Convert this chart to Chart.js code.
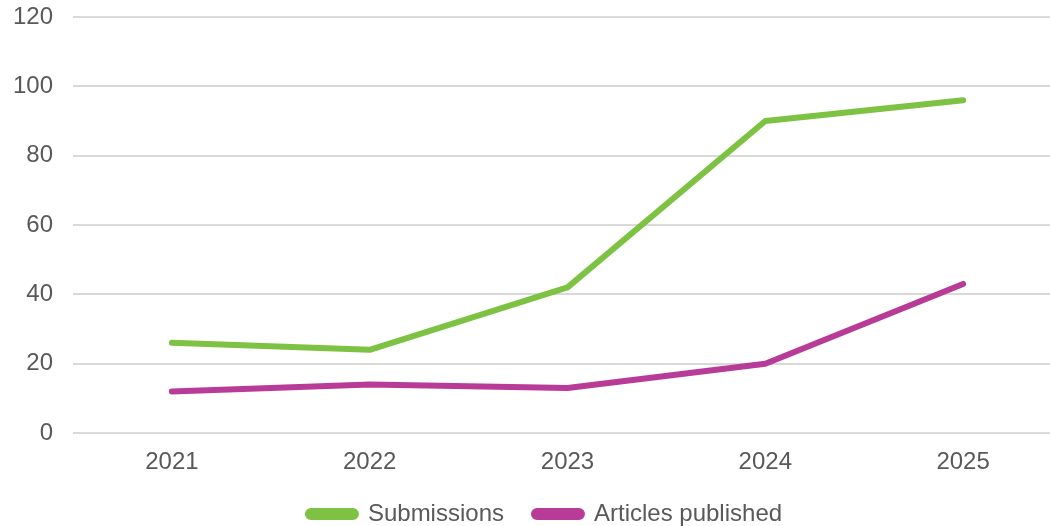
<!DOCTYPE html>
<html>
<head>
<meta charset="utf-8">
<script src="https://cdn.jsdelivr.net/npm/chart.js@4/dist/chart.umd.min.js"></script>
<style>
  html, body { margin: 0; padding: 0; background: #fff; overflow: hidden; }
  #wrap { width: 1062px; height: 526px; }
</style>
</head>
<body>
<div id="wrap"><canvas id="lineChart" width="1062" height="526"></canvas></div>
<script>
// 연도별 데이터
const years = ['2021', '2022', '2023', '2024', '2025'];
const submissions = [26, 24, 42, 90, 96];
const articlesPublished = [12, 14, 13, 20, 43];
const yTicks = [0, 20, 40, 60, 80, 100, 120];

const textColor = '#595959';
const font = { family: 'Liberation Sans, Arial, sans-serif', size: 24 };

// 범례를 살짝 오른쪽으로 이동
const legendShift = {
    id: 'legendShift',
    afterLayout(chart) {
        chart.legend.left += 14;
        chart.legend.right += 14;
    }
};

const ctx = document.getElementById('lineChart').getContext('2d');
const lineChart = new Chart(ctx, {
    type: 'line',
    data: {
        labels: years,
        datasets: [
            {
                label: 'Submissions',
                data: submissions,
                borderColor: '#7DC242',
                backgroundColor: '#7DC242',
                borderWidth: 6,
                borderCapStyle: 'round',
                borderJoinStyle: 'round',
                pointRadius: 0,
                tension: 0
            },
            {
                label: 'Articles published',
                data: articlesPublished,
                borderColor: '#B83C97',
                backgroundColor: '#B83C97',
                borderWidth: 6,
                borderCapStyle: 'round',
                borderJoinStyle: 'round',
                pointRadius: 0,
                tension: 0
            }
        ]
    },
    plugins: [legendShift],
    options: {
        responsive: false,
        devicePixelRatio: 1,
        animation: false,
        layout: { padding: { top: 17, bottom: -10 } },
        scales: {
            x: {
                offset: true,
                afterFit: (scale) => { scale.height = 39; },
                grid: { display: false, drawTicks: false },
                border: { display: false },
                ticks: { color: textColor, font: font, padding: 15, maxRotation: 0 }
            },
            y: {
                min: 0,
                max: 120,
                afterBuildTicks: (scale) => { scale.ticks = yTicks.map(v => ({ value: v })); },
                afterFit: (scale) => {
                    scale.width = 73;
                    scale.paddingTop = 0;
                    scale.paddingBottom = 0;
                },
                grid: { color: '#D9D9D9', lineWidth: 2, drawTicks: false },
                border: { display: false },
                ticks: { color: textColor, font: font, padding: 20 }
            }
        },
        plugins: {
            legend: {
                position: 'bottom',
                labels: {
                    color: textColor,
                    font: font,
                    boxWidth: 48,
                    boxHeight: 6,
                    useBorderRadius: true,
                    borderRadius: 3,
                    padding: 30
                }
            },
            tooltip: { enabled: false }
        }
    }
});
</script>
</body>
</html>
